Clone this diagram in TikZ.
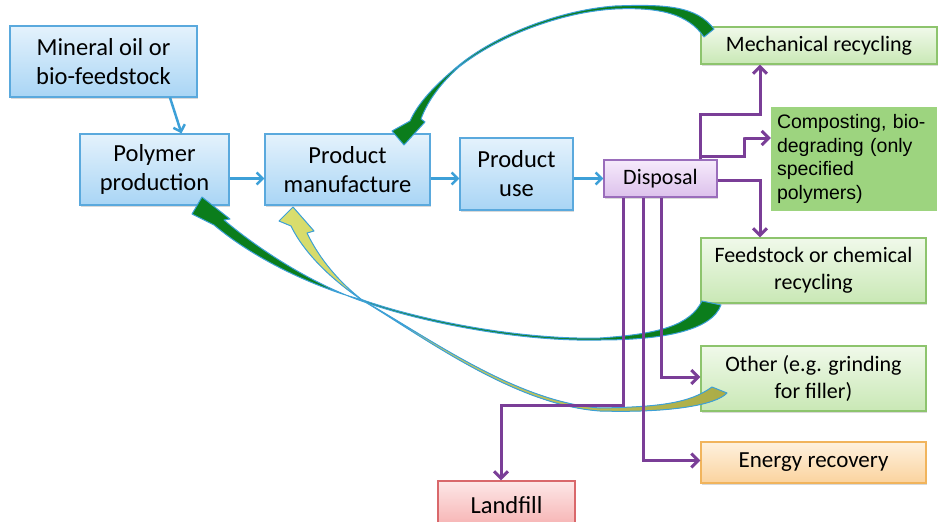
\documentclass[tikz,border=0pt]{standalone}
\usepackage{fontspec}
\setmainfont{Carlito}
\newfontfamily\arialfont{Liberation Sans}
\usetikzlibrary{arrows.meta,shadows}

\definecolor{boxblue}{HTML}{5AA9DD}
\definecolor{blueTop}{HTML}{E4F2FC}
\definecolor{blueBot}{HTML}{A9D5F5}
\definecolor{greenTop}{HTML}{F0F9EA}
\definecolor{greenBot}{HTML}{C9E8B5}
\definecolor{greenLine}{HTML}{8DC46D}
\definecolor{compGreen}{HTML}{9DD47F}
\definecolor{purpTop}{HTML}{F6EAFB}
\definecolor{purpBot}{HTML}{DCC1EC}
\definecolor{purpLine}{HTML}{9A6DBB}
\definecolor{flowPurple}{HTML}{7A3E97}
\definecolor{orangeTop}{HTML}{FEF1DE}
\definecolor{orangeBot}{HTML}{FBD39E}
\definecolor{orangeLine}{HTML}{F1B45C}
\definecolor{pinkTop}{HTML}{FDE7E7}
\definecolor{pinkBot}{HTML}{F6B0B0}
\definecolor{pinkLine}{HTML}{D9686B}
\definecolor{flowBlue}{HTML}{3DA0D8}
\definecolor{bandGreen}{HTML}{0B7D1C}
\definecolor{bandYellow}{HTML}{DADF6E}
\definecolor{bandOlive}{HTML}{ABAC47}

\tikzset{
  softshadow/.style={drop shadow={shadow xshift=1pt,shadow yshift=-1.5pt,opacity=0.25,fill=black!60}},
  stagebox/.style={draw=boxblue,line width=1.2pt,top color=blueTop,bottom color=blueBot,
    align=center,inner sep=0pt,font=\fontsize{24.5}{29}\selectfont,softshadow},
  recbox/.style={draw=greenLine,line width=1.2pt,top color=greenTop,bottom color=greenBot,
    align=center,inner sep=0pt,font=\fontsize{22}{27}\selectfont,softshadow},
  bluearrow/.style={draw=flowBlue,line width=2.5pt,-{Straight Barb[length=6pt,width=12pt]}},
  purparrow/.style={draw=flowPurple,line width=3pt,-{Straight Barb[length=7pt,width=14pt]}},
  returnband/.style={fill=bandGreen,draw=flowBlue,line width=1pt,line join=round}
}

\begin{document}
\begin{tikzpicture}[x=1pt,y=-1pt]
\useasboundingbox (0,0) rectangle (938,522);

% life cycle stages
\node[stagebox,minimum width=187pt,minimum height=71pt] (oil) at (103.5,61.5) {Mineral oil or\\bio-feedstock};
\node[stagebox,minimum width=149pt,minimum height=71pt] (poly) at (154.5,169.5) {Polymer\\production};
\node[stagebox,minimum width=165pt,minimum height=71pt] (manu) at (347.5,169.5) {Product\\manufacture};
\node[stagebox,minimum width=113pt,minimum height=72pt] (use) at (516.5,174) {Product\\use};
\node[draw=purpLine,line width=1.2pt,top color=purpTop,bottom color=purpBot,softshadow,
  minimum width=113pt,minimum height=37pt,inner sep=0pt,font=\fontsize{22}{27}\selectfont] (disp) at (660.5,178.5) {Disposal};

% end of life routes
\node[recbox,minimum width=236pt,minimum height=37pt] (mech) at (819,45.5) {Mechanical recycling};
\node[fill=compGreen,text width=154pt,inner xsep=6pt,inner ysep=0pt,minimum height=104pt,align=left,
  font=\arialfont\fontsize{19.5}{23.5}\selectfont] (comp) at (854,159) {Composting, bio-\\degrading (only\\specified\\polymers)};
\node[recbox,minimum width=225pt,minimum height=65pt] (feed) at (813.5,270.5) {Feedstock or chemical\\recycling};
\node[recbox,minimum width=225pt,minimum height=65pt] (other) at (813.5,378.5) {Other (e.g. grinding\\for filler)};
\node[draw=orangeLine,line width=1.2pt,top color=orangeTop,bottom color=orangeBot,softshadow,
  minimum width=225pt,minimum height=41pt,inner sep=0pt,font=\fontsize{23}{27}\selectfont] (energy) at (813.5,462.5) {Energy recovery};
\node[draw=pinkLine,line width=1.2pt,top color=pinkTop,bottom color=pinkBot,softshadow,
  minimum width=137pt,minimum height=48pt,inner sep=0pt,font=\fontsize{24.5}{29}\selectfont] (landfill) at (506.5,505) {Landfill};

% main chain
\draw[bluearrow] ([xshift=66.5pt]oil.south) -- ([xshift=27pt]poly.north);
\draw[bluearrow] (poly.east |- disp) -- (manu.west |- disp);
\draw[bluearrow] (manu.east |- disp) -- (use.west |- disp);
\draw[bluearrow] (use.east |- disp) -- (disp.west);

% return bands (twisted ribbons)
\path[returnband] (714,29) .. controls (697,6) and (665,4) .. (615,6)
  .. controls (560,10) and (495,35) .. (458,66) .. controls (435,85) and (418,103) .. (410,121)
  -- (392,131) -- (404,145) -- (425,122) -- (421,119)
  .. controls (428,100) and (442,82) .. (459,67) .. controls (497,37) and (560,12) .. (615,9)
  .. controls (660,7) and (688,14) .. (704,37) -- cycle;
\path[returnband] (702,301) .. controls (690,325) and (660,334) .. (600,338)
  .. controls (520,340) and (420,320) .. (363,300) .. controls (320,289) and (258,262) .. (214,225)
  -- (192,214) -- (202,197) -- (230,219) -- (224,220)
  .. controls (262,252) and (315,285) .. (363,301.5) .. controls (420,322) and (520,342) .. (600,340)
  .. controls (665,340) and (712,330) .. (721,305) -- cycle;
\path[returnband,left color=bandYellow,right color=bandOlive] (712,387) .. controls (690,403) and (660,407) .. (600,408)
  .. controls (515,402) and (425,335) .. (362,300) .. controls (335,282) and (305,255) .. (291,226)
  -- (279,221) -- (293,207) -- (314,231) -- (307,233)
  .. controls (320,260) and (340,283) .. (363.5,301) .. controls (425,338) and (515,405) .. (600,411)
  .. controls (670,413) and (716,405) .. (727,393) -- cycle;

% disposal routes
\draw[purparrow] ([xshift=40pt]disp.north) -- ++(0,-45) -| ([xshift=-59pt]mech.south);
\draw[purparrow] ([xshift=40pt,yshift=3pt]disp.north) -| ++(44,-19) |- ([yshift=21pt]comp.west);
\draw[purparrow] ([yshift=-1.5pt]disp.east) -| ([xshift=-53.5pt]feed.north);
\draw[purparrow] ([xshift=0.5pt]disp.south) |- ([yshift=1.5pt]other.west);
\draw[purparrow] ([xshift=-17.5pt]disp.south) |- ([yshift=2pt]energy.west);
\draw[purparrow] ([xshift=-37.5pt]disp.south) -- ++(0,208) -| ([xshift=-5.5pt]landfill.north);
\end{tikzpicture}
\end{document}
